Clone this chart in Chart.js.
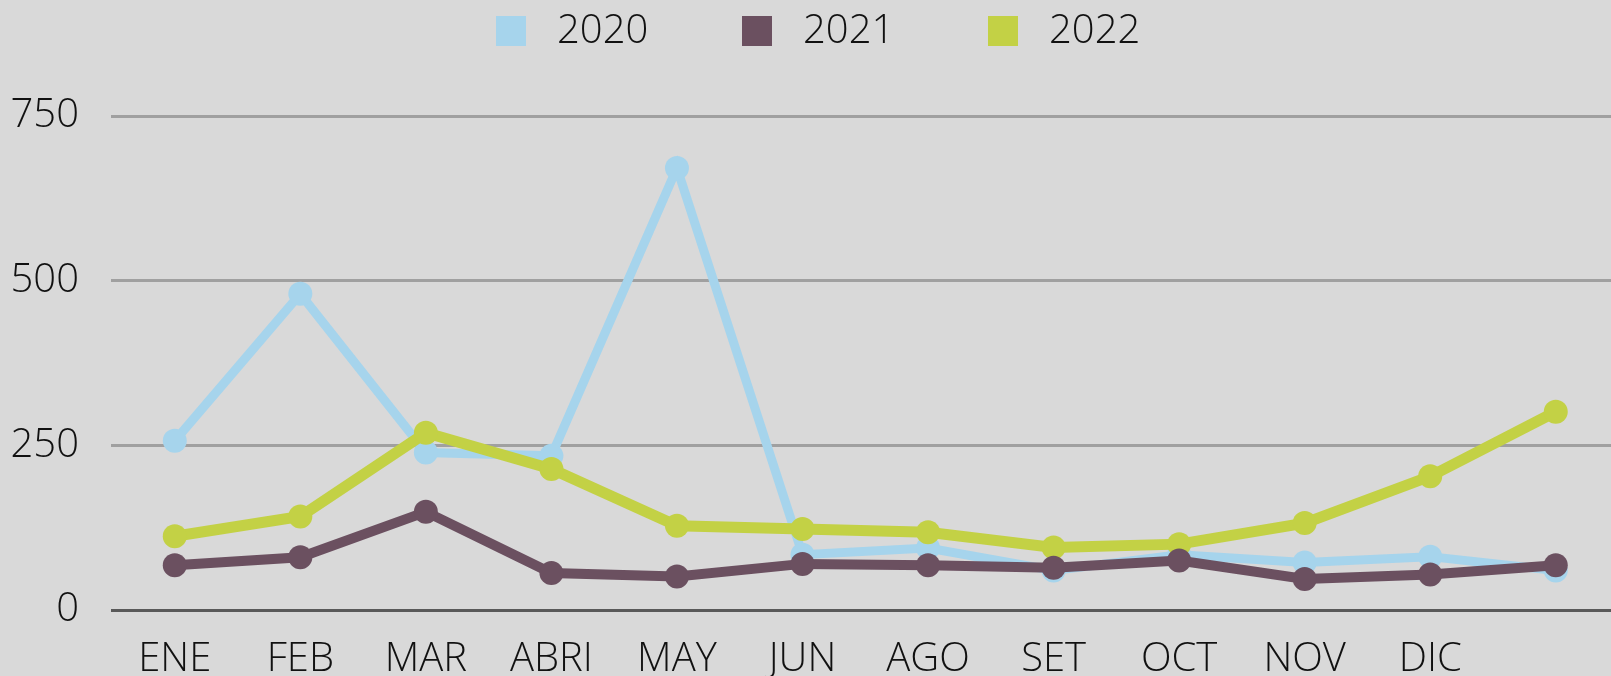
<!DOCTYPE html>
<html>
<head>
<meta charset="utf-8">
<script src="https://cdn.jsdelivr.net/npm/chart.js@4"></script>
<style>
  body { margin: 0; background: #d9d9d9; }
  canvas { display: block; }
</style>
</head>
<body>
<canvas id="chart" width="1611" height="676"></canvas>
<script>
const months = ['ENE', 'FEB', 'MAR', 'ABRI', 'MAY', 'JUN', 'AGO', 'SET', 'OCT', 'NOV', 'DIC', '']
const years = ['2020', '2021', '2022']
const values2020 = [257, 480, 239, 234, 671, 84, 94, 60, 84, 72, 81, 60]
const values2021 = [68, 80, 149, 56, 51, 70, 68, 64, 75, 47, 54, 68]
const values2022 = [112, 142, 269, 214, 128, 123, 118, 95, 100, 132, 203, 301]
const yTicks = [0, 250, 500, 750]

const colors = ['#a6d4ec', '#6b5060', '#c3d145']
const fontFamily = '"Open Sans", sans-serif'

function toPoints(values) {
  return values.map((v, i) => ({ x: i, y: v }))
}

function makeDataset(label, values, color, width, order) {
  return {
    label: label,
    data: toPoints(values),
    borderColor: color,
    backgroundColor: color,
    borderWidth: width,
    tension: 0,
    pointRadius: 12,
    pointHoverRadius: 12,
    pointBorderWidth: 0,
    pointBackgroundColor: color,
    order: order
  }
}

// legend drawn by hand so the spacing matches the picture
const topLegend = {
  id: 'topLegend',
  afterDraw(chart) {
    const ctx = chart.ctx
    const start = chart.width / 2 - 309.5
    const pitch = 246
    ctx.save()
    ctx.font = `300 40px ${fontFamily}`
    ctx.textBaseline = 'middle'
    years.forEach((year, i) => {
      const x = start + i * pitch
      ctx.fillStyle = colors[i]
      ctx.fillRect(x, 16, 30, 30)
      ctx.fillStyle = '#111'
      ctx.fillText(year, x + 61, 32)
    })
    ctx.restore()
  }
}

const ctx = document.getElementById('chart').getContext('2d')
const chart = new Chart(ctx, {
  type: 'line',
  data: {
    datasets: [
      makeDataset(years[0], values2020, colors[0], 9, 3),
      makeDataset(years[1], values2021, colors[1], 10, 1),
      makeDataset(years[2], values2022, colors[2], 11, 2)
    ]
  },
  options: {
    responsive: false,
    devicePixelRatio: 1,
    animation: false,
    layout: {
      autoPadding: false,
      padding: { top: 116, left: 10, right: 0, bottom: 0 }
    },
    plugins: {
      legend: { display: false },
      tooltip: { enabled: false }
    },
    scales: {
      x: {
        type: 'linear',
        min: -0.508,
        max: 11.44,
        grid: { display: false },
        border: { display: false },
        afterFit: (s) => {
          s.height = 66
          s.paddingLeft = 0
          s.paddingRight = 0
        },
        ticks: {
          stepSize: 1,
          includeBounds: false,
          autoSkip: false,
          maxRotation: 0,
          padding: 22,
          color: '#111',
          font: { family: fontFamily, size: 40, weight: 300, lineHeight: 1 },
          callback: (v) => months[v] !== undefined ? months[v] : ''
        }
      },
      y: {
        min: yTicks[0],
        max: yTicks[yTicks.length - 1],
        afterBuildTicks: (scale) => {
          scale.ticks = yTicks.map(v => ({ value: v }))
        },
        afterFit: (s) => {
          s.width = 101
          s.paddingTop = 0
          s.paddingBottom = 0
        },
        border: { display: false },
        grid: {
          drawTicks: false,
          lineWidth: 3,
          color: (c) => c.tick && c.tick.value === 0 ? '#595959' : '#a0a0a0'
        },
        ticks: {
          padding: 32,
          color: '#111',
          font: { family: fontFamily, size: 40, weight: 300 }
        }
      }
    }
  },
  plugins: [topLegend]
})
</script>
</body>
</html>
